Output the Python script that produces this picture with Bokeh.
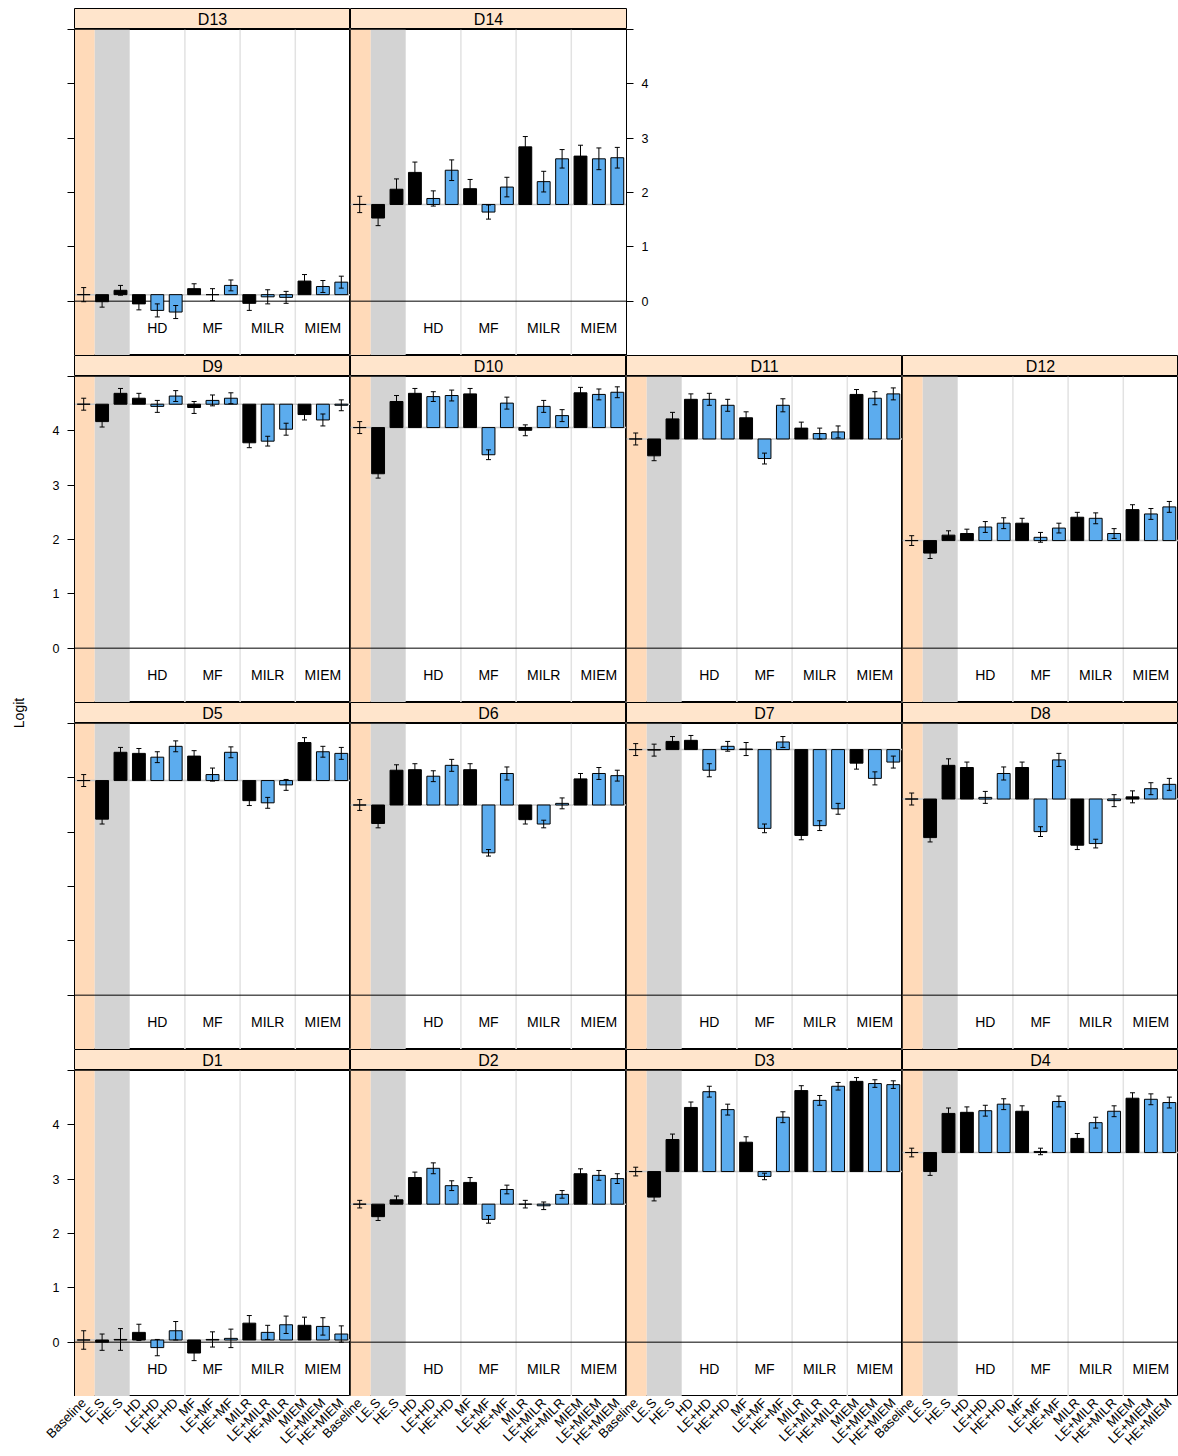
import math
from bokeh.plotting import figure
from bokeh.models import (ColumnDataSource, Range1d, FixedTicker, Span,
                          BoxAnnotation, Whisker, TeeHead, Spacer)
from bokeh.layouts import row, column
from bokeh.embed import file_html
from bokeh.resources import INLINE
from bokeh.core.properties import value

# ---------------- data ----------------
CATEGORIES = ["Baseline", "LE.S", "HE.S", "HD", "LE+HD", "HE+HD", "MF", "LE+MF",
              "HE+MF", "MILR", "LE+MILR", "HE+MILR", "MIEM", "LE+MIEM", "HE+MIEM"]
GROUPS = ["HD", "MF", "MILR", "MIEM"]
Y_TICKS = [-1, 0, 1, 2, 3, 4, 5]
Y_LABELED = [0, 1, 2, 3, 4]
Y_LABEL = "Logit"

D1_est = [0.04, 0.00, 0.05, 0.18, -0.10, 0.21, -0.20, 0.05, 0.07, 0.35, 0.18, 0.32, 0.31, 0.29, 0.15]
D1_err = [0.17, 0.15, 0.20, 0.15, 0.15, 0.17, 0.14, 0.14, 0.17, 0.14, 0.13, 0.16, 0.15, 0.16, 0.15]
D2_est = [2.54, 2.31, 2.62, 3.03, 3.20, 2.88, 2.94, 2.26, 2.81, 2.54, 2.51, 2.72, 3.10, 3.07, 3.01]
D2_err = [0.07, 0.07, 0.07, 0.10, 0.10, 0.09, 0.09, 0.07, 0.08, 0.07, 0.07, 0.07, 0.09, 0.09, 0.09]
D3_est = [3.14, 2.67, 3.73, 4.32, 4.61, 4.28, 3.68, 3.05, 4.14, 4.63, 4.45, 4.71, 4.80, 4.76, 4.74]
D3_err = [0.08, 0.07, 0.10, 0.10, 0.10, 0.10, 0.10, 0.06, 0.10, 0.09, 0.09, 0.07, 0.07, 0.07, 0.07]
D4_est = [3.49, 3.14, 4.21, 4.23, 4.26, 4.38, 4.25, 3.51, 4.43, 3.75, 4.04, 4.25, 4.49, 4.47, 4.41]
D4_err = [0.08, 0.07, 0.10, 0.10, 0.10, 0.10, 0.10, 0.06, 0.10, 0.09, 0.10, 0.10, 0.10, 0.10, 0.10]
D5_est = [3.95, 3.24, 4.47, 4.45, 4.38, 4.58, 4.40, 4.06, 4.47, 3.58, 3.54, 3.87, 4.65, 4.48, 4.45]
D5_err = [0.11, 0.09, 0.09, 0.09, 0.10, 0.10, 0.10, 0.12, 0.10, 0.09, 0.10, 0.10, 0.09, 0.10, 0.11]
D6_est = [3.50, 3.16, 4.14, 4.15, 4.03, 4.23, 4.15, 2.62, 4.08, 3.23, 3.15, 3.53, 3.98, 4.08, 4.04]
D6_err = [0.10, 0.08, 0.10, 0.11, 0.10, 0.11, 0.11, 0.06, 0.12, 0.08, 0.07, 0.10, 0.10, 0.11, 0.10]
D7_est = [4.52, 4.51, 4.67, 4.69, 4.14, 4.58, 4.53, 3.07, 4.66, 2.94, 3.12, 3.43, 4.27, 3.99, 4.29]
D7_err = [0.11, 0.11, 0.09, 0.09, 0.12, 0.09, 0.12, 0.08, 0.10, 0.08, 0.09, 0.10, 0.11, 0.12, 0.11]
D8_est = [3.61, 2.90, 4.23, 4.19, 3.64, 4.08, 4.19, 3.01, 4.33, 2.76, 2.79, 3.58, 3.65, 3.80, 3.88]
D8_err = [0.11, 0.08, 0.12, 0.10, 0.11, 0.12, 0.10, 0.09, 0.12, 0.08, 0.08, 0.11, 0.11, 0.11, 0.11]
D9_est = [4.49, 4.17, 4.69, 4.60, 4.45, 4.64, 4.43, 4.56, 4.60, 3.78, 3.81, 4.03, 4.30, 4.20, 4.47]
D9_err = [0.11, 0.10, 0.09, 0.09, 0.11, 0.10, 0.11, 0.10, 0.10, 0.09, 0.09, 0.11, 0.10, 0.11, 0.10]
D10_est = [4.06, 3.21, 4.54, 4.69, 4.63, 4.65, 4.68, 3.56, 4.51, 4.01, 4.45, 4.28, 4.70, 4.67, 4.71]
D10_err = [0.11, 0.08, 0.11, 0.09, 0.09, 0.10, 0.10, 0.09, 0.11, 0.10, 0.11, 0.11, 0.10, 0.10, 0.10]
D11_est = [3.85, 3.54, 4.22, 4.58, 4.58, 4.47, 4.24, 3.49, 4.47, 4.05, 3.95, 3.98, 4.67, 4.60, 4.68]
D11_err = [0.11, 0.09, 0.12, 0.10, 0.11, 0.11, 0.11, 0.10, 0.12, 0.11, 0.10, 0.11, 0.09, 0.12, 0.11]
D12_est = [1.98, 1.75, 2.08, 2.11, 2.23, 2.30, 2.30, 2.04, 2.21, 2.41, 2.39, 2.11, 2.55, 2.47, 2.60]
D12_err = [0.09, 0.10, 0.08, 0.08, 0.10, 0.10, 0.09, 0.09, 0.09, 0.09, 0.10, 0.09, 0.09, 0.10, 0.10]
D13_est = [0.12, -0.01, 0.20, -0.05, -0.17, -0.20, 0.23, 0.12, 0.29, -0.04, 0.08, 0.07, 0.37, 0.27, 0.35]
D13_err = [0.13, 0.10, 0.09, 0.11, 0.12, 0.12, 0.09, 0.11, 0.10, 0.13, 0.13, 0.11, 0.12, 0.11, 0.11]
D14_est = [1.78, 1.53, 2.06, 2.37, 1.89, 2.41, 2.07, 1.64, 2.10, 2.84, 2.20, 2.62, 2.67, 2.62, 2.64]
D14_err = [0.15, 0.14, 0.19, 0.19, 0.14, 0.19, 0.17, 0.13, 0.18, 0.19, 0.19, 0.17, 0.20, 0.20, 0.19]

PANELS = {
    "D1": (D1_est, D1_err), "D2": (D2_est, D2_err), "D3": (D3_est, D3_err), "D4": (D4_est, D4_err),
    "D5": (D5_est, D5_err), "D6": (D6_est, D6_err), "D7": (D7_est, D7_err), "D8": (D8_est, D8_err),
    "D9": (D9_est, D9_err), "D10": (D10_est, D10_err), "D11": (D11_est, D11_err), "D12": (D12_est, D12_err),
    "D13": (D13_est, D13_err), "D14": (D14_est, D14_err),
}
LAYOUT_ROWS = [["D13", "D14"], ["D9", "D10", "D11", "D12"],
               ["D5", "D6", "D7", "D8"], ["D1", "D2", "D3", "D4"]]
LABELED_LEFT_ROWS = [1, 3]
RIGHT_AXIS_PANELS = ["D14"]

# ---------------- style ----------------
FONT = "Liberation Sans"
TOP_PAD = 8
PANEL_W, PANEL_H, STRIP_H = 276, 326, 21
LEFT_B, RIGHT_B, LABEL_W = 38, 30, 36
AX_H, AX_B = 60, 54
BLUE = "#5CACEE"
STRIP_COL = "#FFE5CC"
BASE_BAND = "#FFDAB9"
SINGLE_BAND = "#D3D3D3"
SEP_COL = "#E2E2E2"
N = len(CATEGORIES)
NCOL = 4


def style_yaxis(ax, labeled):
    ax.ticker = FixedTicker(ticks=Y_TICKS)
    ax.major_label_overrides = {t: (str(t) if (labeled and t in Y_LABELED) else "") for t in Y_TICKS}
    ax.major_tick_out = 7
    ax.major_tick_in = 0
    ax.minor_tick_out = 0
    ax.minor_tick_in = 0
    ax.major_tick_line_color = "black"
    ax.axis_line_color = "black"
    ax.major_label_text_font = FONT
    ax.major_label_text_font_size = "12.5px"
    ax.major_label_text_color = "black"
    ax.major_label_standoff = 8


def make_strip(name, lb, rb):
    s = figure(width=PANEL_W + lb + rb, height=STRIP_H, x_range=Range1d(0, 1), y_range=Range1d(0, 1),
               x_axis_location=None, y_axis_location=None, toolbar_location=None,
               output_backend="svg", min_border=0, min_border_left=lb, min_border_right=rb,
               min_border_top=0, min_border_bottom=0,
               background_fill_color=STRIP_COL, border_fill_color="white",
               outline_line_color="black")
    s.grid.visible = False
    s.text(x=[0.5], y=[0.5], text=[name], text_align="center", text_baseline="middle",
           text_font=value(FONT), text_font_size="16px", text_color="black")
    return s


def make_panel(name, r, c):
    est, err = PANELS[name]
    left_axis = (c == 0)
    right_axis = name in RIGHT_AXIS_PANELS
    lb = LEFT_B if left_axis else 0
    rb = RIGHT_B if right_axis else 0
    yloc = "left" if left_axis else ("right" if right_axis else None)
    p = figure(width=PANEL_W + lb + rb, height=PANEL_H,
               x_range=Range1d(0.5, N + 0.5), y_range=Range1d(Y_TICKS[0], Y_TICKS[-1]),
               x_axis_location=None, y_axis_location=yloc, toolbar_location=None,
               output_backend="svg", min_border=0, min_border_left=lb, min_border_right=rb,
               min_border_top=0, min_border_bottom=0,
               background_fill_color="white", border_fill_color="white",
               outline_line_color="black")
    p.grid.visible = False
    if yloc is not None:
        style_yaxis(p.yaxis[0], labeled=(right_axis or r in LABELED_LEFT_ROWS))

    # background bands
    i_base = CATEGORIES.index("Baseline") + 1
    i_hes = CATEGORIES.index("HE.S") + 1
    p.add_layout(BoxAnnotation(left=i_base - 0.5, right=i_base + 0.6, fill_color=BASE_BAND,
                               fill_alpha=1, line_color=None, level="underlay"))
    p.add_layout(BoxAnnotation(left=i_base + 0.6, right=i_hes + 0.5, fill_color=SINGLE_BAND,
                               fill_alpha=1, line_color=None, level="underlay"))
    for g in GROUPS[1:]:
        p.add_layout(Span(location=CATEGORIES.index(g) + 0.5, dimension="height",
                          line_color=SEP_COL, line_width=1.5, level="underlay"))
    p.add_layout(Span(location=0, dimension="width", line_color="black", line_width=1,
                      level="underlay"))
    p.add_layout(Span(location=est[0], dimension="width", line_color="#C8C8C8", line_width=1.5,
                      level="underlay"))

    colors = ["black" if "+" not in cat else BLUE for cat in CATEGORIES]
    src = ColumnDataSource(dict(
        x=list(range(1, N + 1)),
        base=[est[0]] * N,
        top=est,
        lo=[e - s for e, s in zip(est, err)],
        hi=[e + s for e, s in zip(est, err)],
        color=colors,
    ))
    p.vbar(x="x", bottom="base", top="top", width=0.7, fill_color="color",
           line_color="black", line_width=1, source=src)
    p.add_layout(Whisker(source=src, base="x", upper="hi", lower="lo", dimension="height",
                         line_color="black", line_width=1, level="annotation",
                         upper_head=TeeHead(size=5, line_color="black", line_width=1),
                         lower_head=TeeHead(size=5, line_color="black", line_width=1)))

    gx = [CATEGORIES.index("LE+" + g) + 1 for g in GROUPS]
    p.text(x=gx, y=[-0.5] * len(GROUPS), text=GROUPS, text_align="center",
           text_baseline="middle", text_font=value(FONT), text_font_size="14px",
           text_color="black")
    return p, lb, rb


rows = []
for r, names in enumerate(LAYOUT_ROWS):
    cols = []
    for c, name in enumerate(names):
        p, lb, rb = make_panel(name, r, c)
        s = make_strip(name, lb, rb)
        cols.append(column(s, p))
    rows.append(row(*cols))

# shared bottom axis carrying the category labels under the bottom row
ax_fig = figure(width=LEFT_B + NCOL * PANEL_W, height=AX_H,
                x_range=Range1d(0.5, NCOL * N + 0.5), y_range=Range1d(0, 1),
                x_axis_location="below", y_axis_location=None, toolbar_location=None,
                output_backend="svg", min_border=0, min_border_left=LEFT_B, min_border_right=0,
                min_border_top=0, min_border_bottom=AX_B,
                outline_line_color=None, background_fill_color="white", border_fill_color="white")
ax_fig.grid.visible = False
xa = ax_fig.xaxis[0]
xa.ticker = FixedTicker(ticks=[k * N + i + 1 for k in range(NCOL) for i in range(N)])
xa.major_label_overrides = {k * N + i + 1: CATEGORIES[i] for k in range(NCOL) for i in range(N)}
xa.major_label_orientation = math.pi / 4
xa.major_tick_out = 0
xa.major_tick_in = 0
xa.minor_tick_out = 0
xa.minor_tick_in = 0
xa.axis_line_color = None
xa.major_label_text_font = FONT
xa.major_label_text_font_size = "13px"
xa.major_label_text_color = "black"
xa.major_label_standoff = 1

grid_w = LEFT_B + NCOL * PANEL_W
grid = column(Spacer(width=grid_w, height=TOP_PAD), *rows, ax_fig)

total_h = TOP_PAD + len(LAYOUT_ROWS) * (STRIP_H + PANEL_H) + AX_H
lab = figure(width=LABEL_W, height=total_h, x_range=Range1d(0, LABEL_W), y_range=Range1d(total_h, 0),
             x_axis_location=None, y_axis_location=None, toolbar_location=None,
             output_backend="svg", min_border=0, min_border_left=0, min_border_right=0,
             min_border_top=0, min_border_bottom=0, outline_line_color=None,
             background_fill_color="white", border_fill_color="white")
lab.grid.visible = False
frames_h = len(LAYOUT_ROWS) * (STRIP_H + PANEL_H) - STRIP_H
lab.text(x=[LABEL_W / 2], y=[TOP_PAD + STRIP_H + frames_h / 2], text=[Y_LABEL], angle=math.pi / 2,
         text_align="center", text_baseline="middle", text_font=value(FONT),
         text_font_size="14px", text_color="black")

layout = row(lab, grid)
open("out.html", "w").write(file_html(layout, INLINE))
